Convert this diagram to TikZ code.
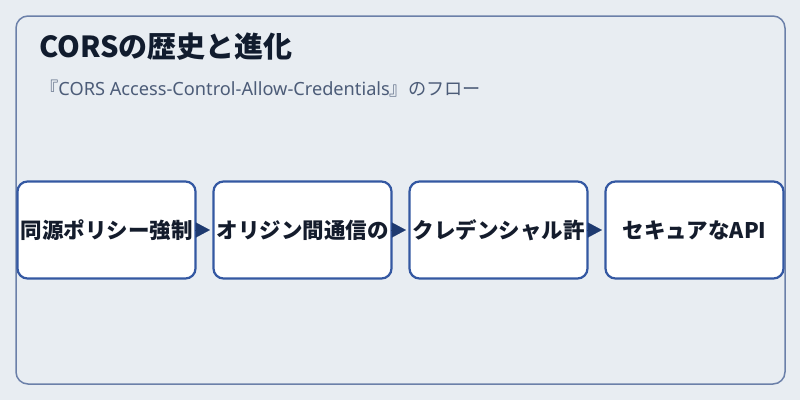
\documentclass[tikz,border=0pt]{standalone}
\usepackage{fontspec}
\setmainfont{Noto Sans CJK JP}
\newfontfamily\latinsans{Noto Sans}
\usetikzlibrary{arrows.meta}
\definecolor{bg}{HTML}{E8EDF2}
\definecolor{frame}{HTML}{6B80A9}
\definecolor{boxline}{HTML}{3458A2}
\definecolor{arrowc}{HTML}{1E3A70}
\definecolor{titlec}{HTML}{111C2E}
\definecolor{subc}{HTML}{4C5C78}
\definecolor{textc}{HTML}{141C2C}
\tikzset{
  stepbox/.style={draw=boxline, line width=2.2pt, fill=white, rounded corners=10pt,
    minimum width=178pt, minimum height=97pt, inner sep=0pt, text=textc,
    font=\fontsize{21.5}{24}\selectfont\bfseries},
  flow/.style={draw=arrowc, line width=0.1pt, -{Triangle[length=14pt,width=15pt,fill=arrowc]},
    shorten >=2.5pt, shorten <=1.5pt}
}
\begin{document}
\begin{tikzpicture}[x=1pt,y=-1pt]
\useasboundingbox (0,0) rectangle (800,400);
\fill[bg] (0,0) rectangle (800,400);
\draw[frame, line width=1.5pt, rounded corners=12pt] (16,16) rectangle (785,384);
\node[anchor=base west, inner sep=0pt, text=titlec, font=\fontsize{29}{32}\selectfont\bfseries] (title) at (39,57) {CORSの歴史と進化};
\node[anchor=base west, inner sep=0pt, text=subc, font=\fontsize{18.2}{20}\selectfont] (sub) at (40,95) {『{\latinsans CORS Access-Control-Allow-Credentials}』のフロー};
\node[stepbox] (b1) at (106.5,230) {同源ポリシー強制};
\node[stepbox] (b2) at (302.5,230) {オリジン間通信の};
\node[stepbox] (b3) at (498.5,230) {クレデンシャル許};
\node[stepbox] (b4) at (694.5,230) {セキュアなAPI};
\draw[flow] (b1.east) -- (b2.west);
\draw[flow] (b2.east) -- (b3.west);
\draw[flow] (b3.east) -- (b4.west);
\end{tikzpicture}
\end{document}
